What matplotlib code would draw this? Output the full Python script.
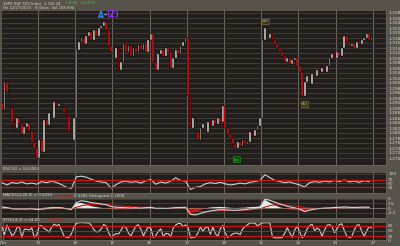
import numpy as np
import matplotlib.pyplot as plt

# price bars (closes), 15 bars per session
close = [1289.2, 1300.4, 1296.4, 1290.0, 1284.4, 1282.0, 1286.0, 1283.6, 1279.6, 1282.4,
         1284.0, 1280.8, 1276.4, 1274.0, 1270.0, 1277.2, 1272.4, 1285.2, 1283.2, 1288.0,
         1286.0, 1292.4, 1290.8, 1291.6, 1290.0, 1288.4, 1286.8, 1280.4, 1277.2, 1286.0,
         1313.2, 1316.4, 1318.0, 1315.6, 1318.8, 1320.4, 1317.2, 1321.2, 1318.8, 1322.0,
         1322.8, 1324.4, 1321.2, 1314.8, 1312.4, 1310.0, 1314.0, 1305.2, 1308.4, 1315.6,
         1312.4, 1314.8, 1310.8, 1314.0, 1312.4, 1315.2, 1313.2, 1315.6, 1312.4, 1317.2,
         1319.6, 1308.4, 1305.2, 1311.6, 1313.2, 1310.8, 1314.0, 1312.4, 1306.0, 1310.0,
         1313.2, 1311.6, 1314.8, 1316.4, 1318.0,
         1295.2, 1282.0, 1286.0, 1280.4, 1277.2, 1282.0, 1283.6, 1280.4, 1284.4, 1282.8,
         1285.2, 1283.6, 1286.0, 1284.4, 1290.8, 1282.0, 1279.6, 1278.0, 1275.6, 1274.0,
         1276.4, 1274.8, 1277.2, 1275.6, 1276.4, 1280.4, 1278.8, 1281.2, 1282.8, 1286.0,
         1317.2, 1322.0, 1318.0, 1319.6, 1317.2, 1315.6, 1314.0, 1312.4, 1310.8, 1308.4,
         1310.0, 1307.6, 1309.2, 1310.0, 1306.8, 1304.4, 1294.8, 1300.4, 1302.8, 1299.6,
         1303.6, 1302.8, 1305.2, 1304.4, 1306.0, 1304.4, 1306.8, 1310.0, 1311.6, 1310.0,
         1312.4, 1310.8, 1314.0, 1318.8, 1316.4, 1314.8, 1315.6, 1314.0, 1316.4, 1315.6,
         1317.2, 1318.0, 1319.6, 1317.2, 1318.0]
first_open = 1292.0

# indicators sampled every 2 bars
rsi = [54, 42, 55, 50, 58, 48, 52, 46, 60, 54, 62, 55, 44, 30, 24, 85, 88, 83, 72, 62,
       58, 54, 26, 44, 58, 62, 56, 60, 52, 64, 70, 46, 58, 52, 62, 80, 66, 62, 18, 30,
       34, 48, 54, 50, 56, 48, 42, 46, 52, 48, 56, 60, 66, 96, 80, 66, 60, 54, 58, 50,
       42, 32, 54, 60, 56, 62, 58, 66, 60, 68, 58, 62, 56, 64, 60]
macd = [0.6, 0.2, -0.4, -0.6, -0.5, -0.6, -0.4, -0.8, -0.6, -0.3, 0.0, 0.2, 0.1, -0.4, -0.8,
        3.0, 4.0, 3.6, 3.0, 2.6, 2.2, 1.8, 0.8, 0.4, 0.3, 0.2, 0.0, 0.1, -0.1, 0.2,
        0.4, -0.3, -0.2, -0.3, -0.1, 0.2, 0.3, 0.4, -3.5, -3.8, -3.0, -2.2, -1.6, -1.2, -0.9,
        -1.0, -1.2, -1.3, -1.1, -0.9, -0.5, -0.2, 0.3, 5.0, 4.2, 3.2, 2.2, 1.4, 0.6, 0.1,
        -0.6, -2.0, -1.2, -0.6, -0.3, -0.1, 0.0, 0.3, 0.4, 0.6, 0.4, 0.3, 0.4, 0.5, 0.4]
signal = [0.2, 0.1, -0.1, -0.3, -0.4, -0.5, -0.5, -0.6, -0.6, -0.5, -0.4, -0.2, -0.1, -0.2, -0.4,
          0.4, 1.2, 1.7, 2.0, 2.1, 2.1, 2.0, 1.7, 1.4, 1.1, 0.9, 0.7, 0.5, 0.4, 0.3,
          0.3, 0.2, 0.1, 0.0, 0.0, 0.0, 0.1, 0.2, -0.7, -1.5, -1.9, -2.0, -1.9, -1.7, -1.5,
          -1.4, -1.3, -1.3, -1.2, -1.1, -1.0, -0.8, -0.6, 0.5, 1.3, 1.7, 1.8, 1.7, 1.5, 1.2,
          0.8, 0.2, -0.1, -0.2, -0.2, -0.2, -0.1, 0.0, 0.1, 0.2, 0.2, 0.3, 0.3, 0.3, 0.3]
# stochastic, one value per bar
stoch = [74, 30, 83, 55, 25, 35, 68, 75, 14, 60, 60, 55, 68, 14, 28, 78, 80, 64, 56, 44,
         70, 88, 80, 86, 55, 22, 15, 14, 35, 70, 93, 96, 97, 96, 95, 96, 82, 58, 45, 47,
         62, 86, 78, 40, 16, 27, 35, 34, 55, 78, 70, 38, 22, 52, 78, 85, 60, 22, 50, 74,
         65, 14, 24, 48, 62, 20, 36, 36, 16, 66, 82, 92, 92, 75, 84, 70, 12, 15, 16, 40,
         72, 48, 70, 72, 32, 72, 36, 20, 62, 82, 40, 14, 22, 34, 38, 38, 30, 62, 75, 85,
         95, 94, 94, 78, 88, 95, 96, 96, 95, 18, 12, 12, 12, 14, 38, 68, 40, 14, 55, 78,
         45, 12, 28, 62, 80, 88, 52, 66, 58, 20, 55, 82, 86, 76, 40, 60, 86, 90, 52, 22,
         14, 18, 55, 82, 85, 50, 20, 50, 75, 68]
day_labels = ["Dec", "13", "14", "15", "16", "17", "20", "21", "22", "23", "27"]

W, H = 400, 246
BG = "#57534b"
PANEL = "#211e1b"
GRID = "#46433e"
VGRID = "#6e6a62"
TXT = "#d8d4cc"
RED = "#d01414"

fig = plt.figure(figsize=(4, 2.46), dpi=100, facecolor=BG)


def box(x0, y0, x1, y1):
    a = fig.add_axes([x0 / W, 1 - y1 / H, (x1 - x0) / W, (y1 - y0) / H], facecolor=PANEL)
    for s in a.spines.values():
        s.set_color("#6e6a62")
        s.set_linewidth(0.5)
    a.yaxis.tick_right()
    a.tick_params(length=0, pad=1.5, labelsize=3.2, colors=TXT)
    a.set_xlim(-0.4, 154.8)
    a.set_xticks(np.arange(14.5, 150, 15))
    a.set_xticklabels([])
    a.grid(axis="x", color=VGRID, lw=0.7)
    a.grid(axis="y", color=GRID, lw=0.6)
    a.set_axisbelow(True)
    return a


bars = np.arange(len(close))
c = np.array(close)
o = np.concatenate([[first_open], c[:-1]])
up = c >= o

ax = box(1, 10, 386, 165)
ax.bar(bars[up], (c - o)[up], bottom=o[up], width=0.7, color="#d4d2d0",
       edgecolor="black", linewidth=0.3)
ax.bar(bars[~up], (c - o)[~up], bottom=o[~up], width=0.7, color="#e01010",
       edgecolor="black", linewidth=0.3)
ax.set_ylim(1267.2, 1329.2)
yt = np.arange(1270, 1330, 2)
ax.set_yticks(yt)
ax.set_yticklabels(["{:,}".format(v) for v in yt])

ax.text(39.7, 1327.2, "A", color="#2f86ff", fontsize=5.5, fontweight="bold", ha="center", va="center")
ax.text(41.6, 1327.2, "-", color="#b0b0b0", fontsize=5.5, fontweight="bold", ha="center", va="center")
ax.text(44.6, 1327.2, "(Z)", color="#8a35e0", fontsize=5.5, fontweight="bold", ha="center", va="center")
tag = dict(boxstyle="square,pad=0.15", lw=0.4)
ax.text(106.2, 1324.6, "(a)", color="#d8c040", fontsize=3, ha="center", va="center",
        bbox=dict(fc="#3a3520", ec="#8a7a30", **tag))
ax.text(122.0, 1291.6, "(b)", color="#d8c040", fontsize=3, ha="center", va="center",
        bbox=dict(fc="#3a3520", ec="#8a7a30", **tag))
ax.text(94.6, 1269.6, "[a]", color="#30e030", fontsize=3.2, ha="center", va="center",
        bbox=dict(fc="#103a10", ec="#20a020", **tag))

xi = np.arange(len(rsi)) * 2

# RSI
a1 = box(1, 172, 386, 193)
a1.plot(xi, rsi, color="#d0d0d0", lw=0.8)
a1.axhline(70, color=RED, lw=0.9)
a1.axhline(30, color=RED, lw=0.9)
a1.set_ylim(0, 110)
a1.set_yticks([100, 70, 50, 30])
fig.text(3 / W, 1 - 168.5 / H, "RSI(14) = 54.6904", color=TXT, fontsize=2.8, va="center")

# MACD
a2 = box(1, 198, 386, 218)
m = np.array(macd)
sg = np.array(signal)
hist = m - sg
a2.fill_between(xi, 0, hist, where=hist >= 0, color="#e8e8e8", lw=0, interpolate=True)
a2.fill_between(xi, 0, hist, where=hist < 0, color=RED, lw=0, interpolate=True)
a2.plot(xi, sg, color=RED, lw=0.8)
a2.plot(xi, m, color="#d8d8d8", lw=0.8)
a2.axhline(0, color="#9a968e", lw=0.4)
a2.set_ylim(-5.5, 5.5)
a2.set_yticks([5, 2.5, 0, -2.5])
a2.set_yticklabels(["5", "2.5", "0", "-2.5"])
fig.text(3 / W, 1 - 195.5 / H, "MACD(12,26,9) = 0.4294", color=TXT, fontsize=2.8, va="center")
fig.text(56 / W, 1 - 195.5 / H, "\u2014Signal", color=RED, fontsize=2.8, va="center")
fig.text(74 / W, 1 - 195.5 / H, "0.3286 Histogram 0.1008", color=TXT, fontsize=2.8, va="center")

# Stochastic
a3 = box(1, 222, 386, 240)
a3.plot(bars, stoch, color="#dcc8c8", lw=0.8)
for lv in (80, 50, 20):
    a3.axhline(lv, color=RED, lw=0.9 if lv != 50 else 0.5)
a3.set_ylim(0, 100)
a3.set_yticks([80, 50, 20, 0])
a3.set_xticks(np.concatenate([[0.5], np.arange(14.5, 150, 15)]))
a3.set_xticklabels(day_labels)
a3.tick_params(axis="x", pad=1.0, labelsize=3)
fig.text(3 / W, 1 - 220 / H, "STO(14,3) = 54.20", color=TXT, fontsize=2.8, va="center")
fig.text(44 / W, 1 - 220 / H, "\u2014%D 50.31", color=RED, fontsize=2.8, va="center")

fig.text(3 / W, 1 - 3.5 / H, "$SPX S&P 500 Index  1,316.44", color=TXT, fontsize=2.7, va="center")
fig.text(66 / W, 1 - 3.5 / H, "+4.90  +0.37%", color="#40e040", fontsize=2.7, va="center")
fig.text(3 / W, 1 - 7.8 / H, "Dn 12/27/2010   9:30am  Vol 108,994", color=TXT, fontsize=2.7, va="center")

fig.savefig("out.png", dpi=100, facecolor=BG)
